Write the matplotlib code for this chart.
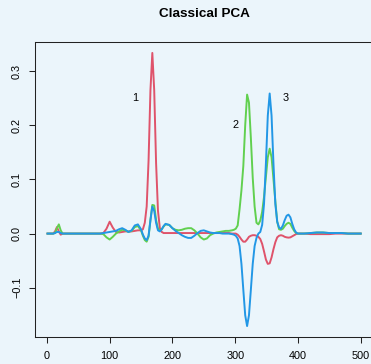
import matplotlib
matplotlib.use("Agg")
import matplotlib.pyplot as plt

# Variable index (spectral channel) shared by all three loading vectors
channel = [1, 5, 10, 13, 16, 19, 22, 25, 30, 35, 40, 45, 50, 55, 60, 65, 70, 75, 80, 85,
           90, 95, 100, 105, 110, 115, 120, 125, 130, 135, 140, 145, 150,
           153, 156, 159, 162, 165, 168, 171, 174, 177, 180, 183, 186, 189,
           195, 200, 205, 210, 215, 220, 225, 230, 235, 240, 245, 250, 255, 260, 265,
           270, 275, 280, 285, 290, 295,
           298, 301, 304, 307, 310, 313, 316, 319, 322, 325, 328, 331, 334, 337, 340,
           343, 346, 349, 352, 355, 358, 361, 364, 367, 370, 373, 376, 379, 382, 385,
           388, 391, 394, 397, 400,
           410, 420, 430, 440, 450, 460, 470, 480, 490, 500]

# Loadings of the first principal component
pc1 = [0, 0, 0, 0.004, 0.012, 0.004, -0.002, 0.000, 0, 0, 0, 0, 0, 0, 0, 0, 0, 0, 0, 0,
       0.001, 0.009, 0.022, 0.011, 0.003, 0.002, 0.003, 0.004, 0.004, 0.004, 0.005, 0.006, 0.006,
       0.008, 0.020, 0.050, 0.135, 0.265, 0.334, 0.265, 0.130, 0.042, 0.010, 0.003, 0.001, 0.001,
       0.001, 0.001, 0.001, 0.001, 0.001, 0.001, 0.001, 0.001, 0.001, 0.001, 0.001, 0.001, 0.001,
       0.001, 0.001, 0.001, 0.001, 0.001, 0.001, 0.001, 0.000,
       -0.000, 0.000, -0.002, -0.006, -0.011, -0.015, -0.015, -0.011, -0.006, -0.004, -0.003,
       -0.003, -0.004, -0.006, -0.010, -0.019, -0.033, -0.048, -0.056, -0.055, -0.044, -0.029,
       -0.016, -0.007, -0.004, -0.003, -0.004, -0.006, -0.007, -0.0075, -0.007, -0.005, -0.003,
       -0.001, 0.000,
       0.000, -0.001, -0.001, -0.001, -0.001, 0.000, 0.000, 0.000, 0.000, 0.000]

# Loadings of the second principal component
pc2 = [0, 0, 0, 0.001, 0.010, 0.017, 0.006, 0.000, 0, 0, 0, 0, 0, 0, 0, 0, 0, 0, 0, 0,
       -0.001, -0.007, -0.011, -0.006, 0.000, 0.004, 0.007, 0.006, 0.003, 0.005, 0.012, 0.014, 0.006,
       -0.004, -0.012, -0.015, -0.006, 0.025, 0.053, 0.052, 0.025, 0.009, 0.006, 0.008, 0.013, 0.017,
       0.016, 0.010, 0.007, 0.006, 0.007, 0.009, 0.010, 0.010, 0.006, 0.000, -0.007, -0.011, -0.009,
       -0.003, 0.000, 0.002, 0.003, 0.004, 0.005, 0.005, 0.006,
       0.007, 0.009, 0.015, 0.045, 0.080, 0.125, 0.200, 0.257, 0.242, 0.177, 0.103, 0.050, 0.020,
       0.017, 0.024, 0.040, 0.068, 0.105, 0.141, 0.157, 0.141, 0.101, 0.060, 0.022, 0.008, 0.007,
       0.009, 0.014, 0.018, 0.020, 0.018, 0.011, 0.005, 0.001, 0.000,
       0.000, 0.001, 0.002, 0.002, 0.001, 0.001, 0.001, 0.000, 0.000, 0.000]

# Loadings of the third principal component
pc3 = [0, 0, 0, 0.001, 0.003, 0.003, 0.001, 0.000, 0, 0, 0, 0, 0, 0, 0, 0, 0, 0, 0, 0,
       0.001, 0.002, 0.003, 0.004, 0.005, 0.008, 0.010, 0.007, 0.003, 0.006, 0.015, 0.017, 0.008,
       -0.002, -0.009, -0.012, -0.004, 0.025, 0.050, 0.042, 0.020, 0.006, 0.004, 0.008, 0.014, 0.018,
       0.016, 0.010, 0.005, 0.001, -0.003, -0.006, -0.008, -0.008, -0.004, 0.001, 0.005, 0.006, 0.004,
       0.002, 0.001, 0.001, 0.001, 0.000, 0.000, 0.000, -0.001,
       -0.002, -0.004, -0.009, -0.023, -0.056, -0.104, -0.151, -0.171, -0.151, -0.104, -0.056,
       -0.023, -0.008, 0.000, 0.003, 0.016, 0.055, 0.130, 0.218, 0.259, 0.218, 0.130, 0.055,
       0.022, 0.011, 0.009, 0.015, 0.025, 0.033, 0.035, 0.030, 0.018, 0.008, 0.002, 0.000,
       0.000, 0.001, 0.002, 0.002, 0.001, 0.001, 0.001, 0.000, 0.000, 0.000]

x_ticks = [0, 100, 200, 300, 400, 500]
y_ticks = [-0.1, 0.0, 0.1, 0.2, 0.3]
y_tick_labels = ["\u22120.1", "0.0", "0.1", "0.2", "0.3"]

series = [pc1, pc2, pc3]
series_colors = ["#DF536B", "#61D04F", "#2297E6"]
series_labels = ["1", "2", "3"]

bg = "#EBF5FB"
plt.rcParams["font.family"] = ["Liberation Sans", "DejaVu Sans"]

fig = plt.figure(figsize=(3.71, 3.64), dpi=100, facecolor=bg)
ax = fig.add_axes([35 / 371, 27 / 364, 338.2 / 371, 295 / 364])
ax.set_facecolor(bg)

for vals, col in zip(series, series_colors):
    ax.plot(channel, vals, color=col, lw=1.4, solid_joinstyle="round")

# component numbers beside their dominant peaks
ax.text(140, 0.25, series_labels[0], fontsize=7.8, ha="center", va="center")
ax.text(300, 0.20, series_labels[1], fontsize=7.8, ha="center", va="center")
ax.text(380, 0.25, series_labels[2], fontsize=7.8, ha="center", va="center")

xmin, xmax = min(channel), max(channel)
xpad = 0.04 * (xmax - xmin)
ymin = min(min(s) for s in series)
ymax = max(max(s) for s in series)
ypad = 0.04 * (ymax - ymin)
ax.set_xlim(xmin - xpad, xmax + xpad)
ax.set_ylim(ymin - ypad, ymax + ypad)

ax.set_xticks(x_ticks)
ax.set_xticklabels([str(t) for t in x_ticks])
ax.set_yticks(y_ticks)
ax.set_yticklabels(y_tick_labels, rotation=90, va="center")
ax.tick_params(axis="both", length=4.3, width=0.75, labelsize=7.8, color="#222222")
ax.tick_params(axis="x", pad=6)
ax.tick_params(axis="y", pad=5)

for sp in ax.spines.values():
    sp.set_linewidth(0.75)
    sp.set_color("#222222")

ax.set_title("Classical PCA", fontsize=9.7, fontweight="bold", pad=18)

fig.savefig("out.png", dpi=100, facecolor=bg)
